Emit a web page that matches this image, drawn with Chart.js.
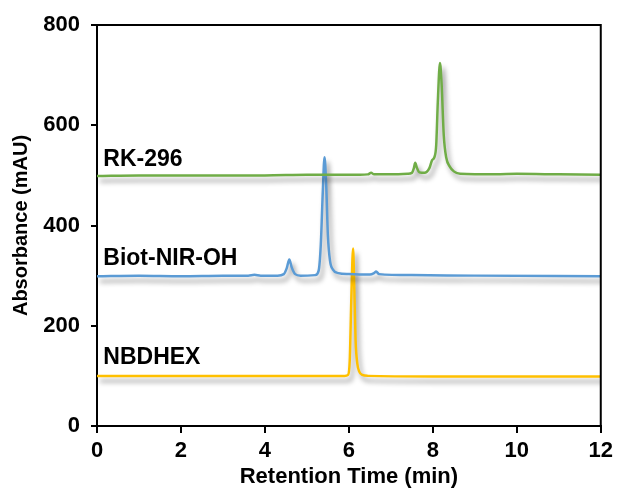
<!DOCTYPE html>
<html>
<head>
<meta charset="utf-8">
<script src="https://cdn.jsdelivr.net/npm/chart.js@4"></script>
<style>
  html, body { margin: 0; padding: 0; background: #fff; }
  #wrap { width: 618px; height: 494px; position: relative; }
</style>
</head>
<body>
<div id="wrap"><canvas id="c" width="618" height="494"></canvas></div>
<script>
// ---- Data ----
const xTicks = [0, 2, 4, 6, 8, 10, 12];
const yTicks = [0, 200, 400, 600, 800];

const seriesNames = ['RK-296', 'Biot-NIR-OH', 'NBDHEX'];

const rkTime = [0, 1, 2, 3, 4, 5, 6, 6.45, 6.53, 6.6, 7, 7.4, 7.5, 7.55, 7.58, 7.62, 7.68, 7.8, 7.92, 7.98, 8.04, 8.08, 8.12, 8.17, 8.21, 8.26, 8.32, 8.4, 8.5, 8.65, 9.5, 10, 11, 12];
const rkAbs  = [499, 500, 500, 500, 500, 501, 501, 502, 505, 502, 502, 503, 505, 515, 525, 515, 506, 505, 515, 530, 537, 560, 650, 724, 680, 580, 535, 518, 508, 503, 502, 503, 502, 501];

const biotTime = [0, 1, 2, 3, 3.6, 3.75, 3.9, 4.3, 4.45, 4.52, 4.58, 4.64, 4.72, 4.85, 5.2, 5.28, 5.33, 5.38, 5.42, 5.46, 5.5, 5.55, 5.62, 5.75, 6.0, 6.5, 6.6, 6.65, 6.72, 7.5, 9, 12];
const biotAbs  = [299, 300, 299, 300, 300, 301.5, 300, 300, 303, 315, 332, 316, 303, 300, 301, 310, 360, 470, 536, 480, 380, 330, 312, 305, 303, 302, 305, 308, 303, 301, 300, 299];

const nbdTime = [0, 2, 4, 5.9, 5.98, 6.02, 6.06, 6.10, 6.13, 6.16, 6.20, 6.25, 6.32, 6.45, 8, 10, 12];
const nbdAbs  = [100, 100, 100, 100, 102, 130, 260, 354, 270, 170, 125, 108, 102, 100, 99, 99, 99];

const seriesColors = ['#70AD47', '#5B9BD5', '#FFC000'];

function pairs(t, v) { return t.map((x, i) => ({ x: x, y: v[i] })); }

const FONT = "'Liberation Sans', Arial, sans-serif";

// shadow under each trace
const shadowPlugin = {
  id: 'shadow',
  beforeDatasetDraw(chart) {
    const ctx = chart.ctx;
    ctx.save();
    ctx.shadowColor = 'rgba(0,0,0,0.4)';
    ctx.shadowBlur = 5;
    ctx.shadowOffsetX = 3;
    ctx.shadowOffsetY = 5;
  },
  afterDatasetDraw(chart) { chart.ctx.restore(); }
};

// series name labels + plot frame
const labelPlugin = {
  id: 'labels',
  afterDatasetsDraw(chart) {
    const ctx = chart.ctx;
    const xs = chart.scales.x, ys = chart.scales.y;
    const anchors = [531, 333, 136];
    ctx.save();
    ctx.fillStyle = '#000';
    ctx.font = "bold 23px " + FONT;
    ctx.textBaseline = 'middle';
    ctx.textAlign = 'left';
    seriesNames.forEach((n, i) => {
      ctx.fillText(n, xs.getPixelForValue(0.15), ys.getPixelForValue(anchors[i]));
    });
    ctx.restore();
  },
  afterDraw(chart) {
    const ctx = chart.ctx, a = chart.chartArea;
    ctx.save();
    ctx.strokeStyle = '#000';
    ctx.lineWidth = 2;
    ctx.beginPath();
    ctx.moveTo(a.left, a.top);
    ctx.lineTo(a.right, a.top);
    ctx.lineTo(a.right, a.bottom);
    ctx.stroke();
    ctx.restore();
  }
};

new Chart(document.getElementById('c'), {
  type: 'line',
  data: {
    datasets: [
      { label: seriesNames[0], data: pairs(rkTime, rkAbs) },
      { label: seriesNames[1], data: pairs(biotTime, biotAbs) },
      { label: seriesNames[2], data: pairs(nbdTime, nbdAbs) }
    ].map((d, i) => Object.assign(d, {
      borderColor: seriesColors[i],
      borderWidth: 2.5,
      pointRadius: 0,
      fill: false,
      cubicInterpolationMode: 'monotone'
    }))
  },
  options: {
    responsive: false,
    animation: false,
    layout: { padding: { left: 0, right: 16, top: 25, bottom: 0 } },
    plugins: { legend: { display: false }, tooltip: { enabled: false } },
    scales: {
      x: {
        type: 'linear',
        min: 0, max: 12,
        afterBuildTicks(s) { s.ticks = xTicks.map(v => ({ value: v })); },
        afterFit(s) { s.height = 68; },
        border: { display: true, color: '#000', width: 2 },
        grid: { display: true, drawOnChartArea: false, drawTicks: true, tickLength: 7, color: '#000', lineWidth: 2 },
        ticks: { color: '#000', font: { family: FONT, size: 22, weight: 'bold' }, padding: 5, maxRotation: 0 },
        title: { display: true, text: 'Retention Time (min)', color: '#000', font: { family: FONT, size: 22, weight: 'bold' }, padding: { top: 0, bottom: 4 } }
      },
      y: {
        min: 0, max: 800,
        afterBuildTicks(s) { s.ticks = yTicks.map(v => ({ value: v })); },
        afterFit(s) { s.width = 97; },
        border: { display: true, color: '#000', width: 2 },
        grid: { display: true, drawOnChartArea: false, drawTicks: true, tickLength: 6, color: '#000', lineWidth: 2 },
        ticks: { color: '#000', font: { family: FONT, size: 22, weight: 'bold' }, padding: 11 },
        title: { display: true, text: 'Absorbance (mAU)', color: '#000', font: { family: FONT, size: 20, weight: 'bold' }, padding: { top: 9, bottom: 6 } }
      }
    }
  },
  plugins: [shadowPlugin, labelPlugin]
});
</script>
</body>
</html>
